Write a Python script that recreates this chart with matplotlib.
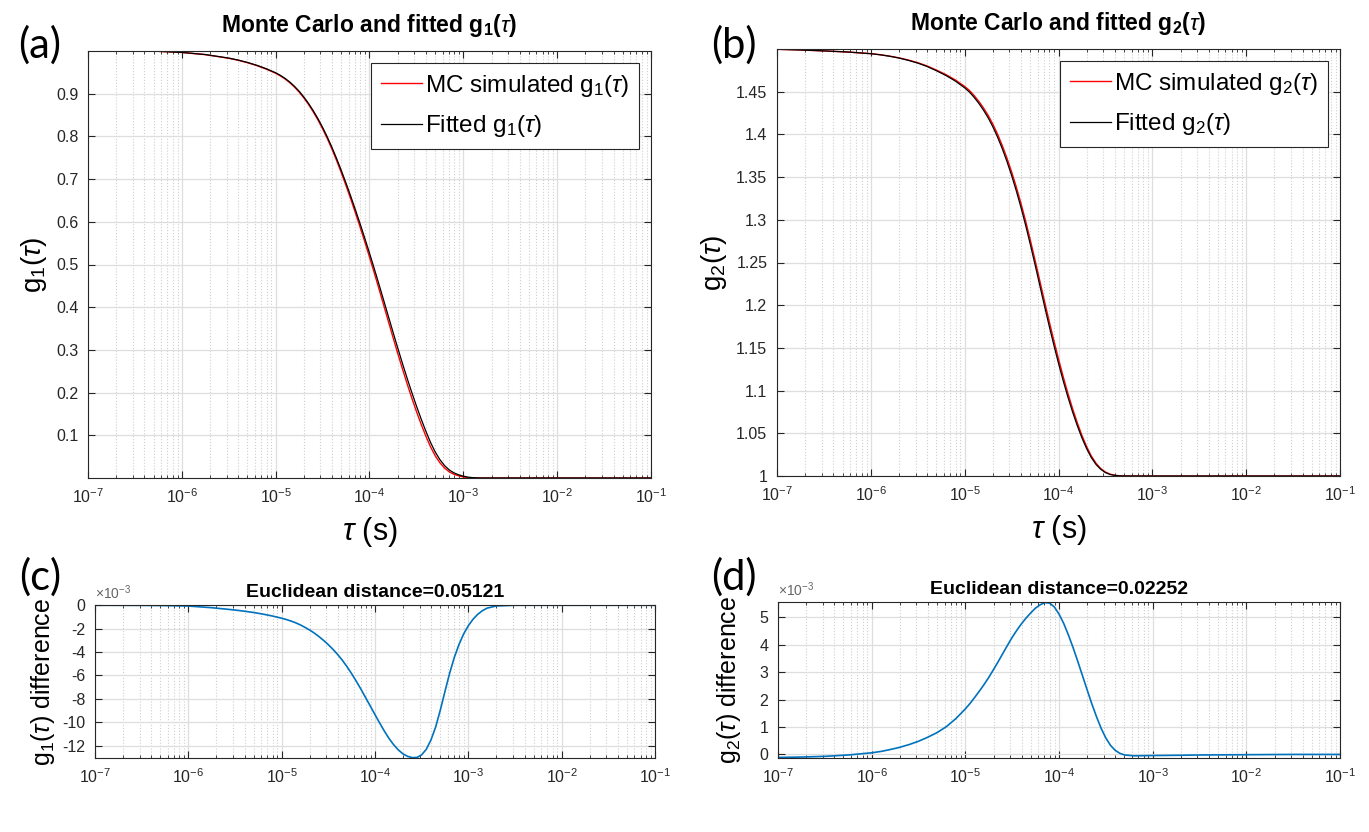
import numpy as np
import matplotlib
matplotlib.use("Agg")
from matplotlib import pyplot as plt
from matplotlib.ticker import LogLocator, NullFormatter, FuncFormatter

# log10(tau) read-out points, panels (a) and (c)
LOG_TAU_1 = [-7.0, -6.5, -6.25, -6.0, -5.75, -5.5, -5.4, -5.3, -5.2, -5.1,
             -5.0, -4.95, -4.9, -4.85, -4.8, -4.75, -4.7, -4.65, -4.6, -4.55,
             -4.5, -4.45, -4.4, -4.35, -4.3, -4.25, -4.2, -4.15, -4.1, -4.05,
             -4.0, -3.95, -3.9, -3.85, -3.8, -3.75, -3.7, -3.65, -3.6, -3.55,
             -3.5, -3.45, -3.4, -3.35, -3.3, -3.25, -3.2, -3.15, -3.1, -3.05,
             -3.0, -2.95, -2.9, -2.85, -2.8, -2.7, -2.5, -2.0, -1.5, -1.0]
G1_MC = [1.0, 0.99989, 0.99917, 0.99663, 0.99149, 0.98299, 0.97829, 0.97258, 0.96574, 0.95758,
         0.94789, 0.94178, 0.93455, 0.9259, 0.91572, 0.90391, 0.89028, 0.87492, 0.85772, 0.83879,
         0.81793, 0.79503, 0.77009, 0.7432, 0.71465, 0.68465, 0.6534, 0.62092, 0.5874, 0.55288,
         0.51735, 0.48084, 0.44355, 0.40562, 0.36758, 0.32974, 0.2925, 0.25629, 0.22128, 0.1878,
         0.15602, 0.1261, 0.0984, 0.0732, 0.05215, 0.03575, 0.0233, 0.01435, 0.00865, 0.00505,
         0.00245, 0.0008, 0.00002, -0.00017, -0.00015, -0.00006, 0.0, 0.0, 0.0, 0.0]
G1_FIT = [1.0, 0.9999, 0.9992, 0.9967, 0.9917, 0.9834, 0.9788, 0.9732, 0.9665, 0.9585,
          0.949, 0.943, 0.9359, 0.9274, 0.9174, 0.9058, 0.8924, 0.8773, 0.8604, 0.8418,
          0.8213, 0.7988, 0.7743, 0.7479, 0.7199, 0.6905, 0.6599, 0.6281, 0.5953, 0.5615,
          0.5267, 0.4909, 0.4543, 0.4170, 0.3795, 0.3421, 0.3052, 0.2692, 0.2343, 0.2008,
          0.1688, 0.1384, 0.1099, 0.0836, 0.0611, 0.0431, 0.0291, 0.0188, 0.012, 0.0075,
          0.0042, 0.002, 0.0008, 0.0003, 0.0001, 0.0, 0.0, 0.0, 0.0, 0.0]
# MC - fitted, in units of 1e-3
G1_DIFF = [0.0, -0.01, -0.03, -0.07, -0.21, -0.41, -0.51, -0.62, -0.76, -0.92,
           -1.11, -1.22, -1.35, -1.50, -1.68, -1.89, -2.12, -2.38, -2.68, -3.01,
           -3.37, -3.77, -4.21, -4.70, -5.25, -5.85, -6.50, -7.18, -7.90, -8.62,
           -9.35, -10.06, -10.75, -11.38, -11.92, -12.36, -12.70, -12.91, -13.02, -13.00,
           -12.78, -12.30, -11.50, -10.40, -8.95, -7.35, -5.80, -4.45, -3.35, -2.45,
           -1.75, -1.20, -0.78, -0.47, -0.25, -0.06, 0.0, 0.0, 0.0, 0.0]

# log10(tau) read-out points, panels (b) and (d)
LOG_TAU_2 = [-7.0, -6.75, -6.5, -6.25, -6.0, -5.9, -5.8, -5.7, -5.6, -5.5,
             -5.4, -5.3, -5.2, -5.1, -5.0, -4.95, -4.9, -4.85, -4.8, -4.75,
             -4.7, -4.65, -4.6, -4.55, -4.5, -4.45, -4.4, -4.35, -4.3, -4.25,
             -4.2, -4.15, -4.1, -4.05, -4.0, -3.95, -3.9, -3.85, -3.8, -3.75,
             -3.7, -3.65, -3.6, -3.55, -3.5, -3.45, -3.4, -3.35, -3.3, -3.2,
             -3.0, -2.7, -2.5, -2.0, -1.5, -1.0]
G2_MC = [1.49959, 1.49881, 1.49773, 1.49648, 1.49456, 1.49331, 1.49168, 1.48966, 1.48706, 1.48398,
         1.48013, 1.4753, 1.47002, 1.46381, 1.45616, 1.45156, 1.44558, 1.43881, 1.43105, 1.42231,
         1.41209, 1.40038, 1.38718, 1.37248, 1.35627, 1.33853, 1.31927, 1.29848, 1.27617, 1.25284,
         1.22896, 1.20504, 1.18152, 1.15888, 1.13712, 1.11628, 1.09686, 1.0789, 1.0624, 1.04738,
         1.03436, 1.02335, 1.01488, 1.00875, 1.0046, 1.00213, 1.00085, 1.00024, 1.00003, 0.99995,
         0.99996, 0.99997, 0.99998, 0.99999, 1.0, 1.0]
G2_FIT = [1.4997, 1.4989, 1.4978, 1.4965, 1.4945, 1.4932, 1.4915, 1.4894, 1.4867, 1.4835,
          1.4795, 1.4745, 1.469, 1.4625, 1.4545, 1.4497, 1.4435, 1.4365, 1.4285, 1.4195,
          1.4090, 1.3970, 1.3835, 1.3685, 1.3520, 1.3340, 1.3145, 1.2935, 1.2710, 1.2475,
          1.2235, 1.1995, 1.1760, 1.1535, 1.1320, 1.1115, 1.0925, 1.0750, 1.0590, 1.0445,
          1.0320, 1.0215, 1.0135, 1.0078, 1.0040, 1.0018, 1.0007, 1.0002, 1.00005, 1.0,
          1.0, 1.0, 1.0, 1.0, 1.0, 1.0]
G2_DIFF = [-0.11, -0.095, -0.07, -0.02, 0.06, 0.11, 0.18, 0.26, 0.36, 0.48,
           0.63, 0.80, 1.02, 1.31, 1.66, 1.86, 2.08, 2.31, 2.55, 2.81,
           3.09, 3.38, 3.68, 3.98, 4.27, 4.53, 4.77, 4.98, 5.17, 5.34,
           5.46, 5.54, 5.52, 5.38, 5.12, 4.78, 4.36, 3.90, 3.40, 2.88,
           2.36, 1.85, 1.38, 0.95, 0.60, 0.33, 0.15, 0.04, -0.02, -0.05,
           -0.04, -0.03, -0.02, -0.01, 0.0, 0.0]

TITLES = ["Monte Carlo and fitted g$_\\mathbf{1}$($\\tau$)",
          "Monte Carlo and fitted g$_\\mathbf{2}$($\\tau$)",
          "Euclidean distance=0.05121",
          "Euclidean distance=0.02252"]
X_TICKS = [1e-7, 1e-6, 1e-5, 1e-4, 1e-3, 1e-2, 1e-1]
G1_TICKS = [0.1, 0.2, 0.3, 0.4, 0.5, 0.6, 0.7, 0.8, 0.9]
G2_TICKS = [1.0, 1.05, 1.1, 1.15, 1.2, 1.25, 1.3, 1.35, 1.4, 1.45]
D1_TICKS = [-12, -10, -8, -6, -4, -2, 0]
D2_TICKS = [0, 1, 2, 3, 4, 5]

plt.rcParams["font.family"] = ["Liberation Sans", "DejaVu Sans"]
plt.rcParams["mathtext.fontset"] = "custom"
plt.rcParams["mathtext.rm"] = "Liberation Sans"
plt.rcParams["mathtext.it"] = "Liberation Sans:italic"
plt.rcParams["mathtext.bf"] = "Liberation Sans:bold"

DARK = "#262626"
W, H = 1369, 832


def px_axes(fig, left, top, right, bottom):
    return fig.add_axes([left / W, 1 - bottom / H, (right - left) / W, (bottom - top) / H])


def style(ax):
    ax.set_xscale("log")
    ax.set_xlim(1e-7, 1e-1)
    ax.set_xticks(X_TICKS)
    ax.xaxis.set_minor_locator(LogLocator(base=10, subs=np.arange(2, 10), numticks=100))
    ax.xaxis.set_minor_formatter(NullFormatter())
    ax.grid(True, which="major", color="#dedede", lw=0.9)
    ax.grid(True, which="minor", axis="x", color="#cfcfcf", lw=0.8, ls=":")
    ax.set_axisbelow(True)
    ax.tick_params(which="both", direction="in", top=True, right=True,
                   colors=DARK, labelsize=11.5)
    ax.tick_params(which="major", length=5, pad=7)
    ax.tick_params(which="minor", length=2.5)
    for s in ax.spines.values():
        s.set_color(DARK)
        s.set_linewidth(0.8)


def legend(ax):
    leg = ax.legend(loc="upper right", fontsize=17.5, fancybox=False, edgecolor=DARK,
                    framealpha=1, handlelength=1.7, handletextpad=0.1,
                    labelspacing=0.6, borderaxespad=0.5, borderpad=0.4)
    leg.get_frame().set_linewidth(0.8)


fig = plt.figure(figsize=(W / 100, H / 100), dpi=100)

tau1 = 10.0 ** np.array(LOG_TAU_1)
tau2 = 10.0 ** np.array(LOG_TAU_2)

# (a)
ax = px_axes(fig, 88, 51, 651, 478)
style(ax)
ax.plot(tau1, G1_MC, color="red", lw=1.0, label="MC simulated g$_1$($\\tau$)")
ax.plot(tau1, G1_FIT, color="black", lw=0.9, label="Fitted g$_1$($\\tau$)")
ax.set_ylim(0, 1)
ax.set_yticks(G1_TICKS)
ax.yaxis.set_major_formatter(FuncFormatter(lambda v, p: f"{v:g}"))
ax.set_title(TITLES[0], fontsize=16.5, fontweight="bold", pad=14)
ax.set_xlabel("$\\tau$ (s)", fontsize=22, labelpad=6)
ax.set_ylabel("g$_1$($\\tau$)", fontsize=20, labelpad=5)
legend(ax)

# (b)
ax = px_axes(fig, 777, 49, 1340, 476)
style(ax)
ax.plot(tau2, G2_MC, color="red", lw=1.0, label="MC simulated g$_2$($\\tau$)")
ax.plot(tau2, G2_FIT, color="black", lw=0.9, label="Fitted g$_2$($\\tau$)")
ax.set_ylim(1, 1.5)
ax.set_yticks(G2_TICKS)
ax.yaxis.set_major_formatter(FuncFormatter(lambda v, p: f"{v:g}"))
ax.set_title(TITLES[1], fontsize=16.5, fontweight="bold", pad=14)
ax.set_xlabel("$\\tau$ (s)", fontsize=22, labelpad=6)
ax.set_ylabel("g$_2$($\\tau$)", fontsize=20, labelpad=5)
legend(ax)

# (c)
ax = px_axes(fig, 95, 605, 655, 758)
style(ax)
ax.plot(tau1, np.array(G1_DIFF) * 1e-3, color="#0072BD", lw=1.2)
ax.set_ylim(-13.05e-3, 0.02e-3)
ax.set_yticks(np.array(D1_TICKS) * 1e-3)
ax.yaxis.set_major_formatter(FuncFormatter(lambda v, p: f"{v * 1e3:.0f}"))
ax.set_title(TITLES[2], fontsize=14, fontweight="bold", pad=6)
ax.set_ylabel("g$_1$($\\tau$) difference", fontsize=18, labelpad=4)
ax.text(0.0, 1.02, "\u00d710$^{-3}$", transform=ax.transAxes, ha="left", va="bottom",
        fontsize=10, color="#666666")

# (d)
ax = px_axes(fig, 778, 602, 1340, 758)
style(ax)
ax.plot(tau2, np.array(G2_DIFF) * 1e-3, color="#0072BD", lw=1.2)
ax.set_ylim(-0.13e-3, 5.56e-3)
ax.set_yticks(np.array(D2_TICKS) * 1e-3)
ax.yaxis.set_major_formatter(FuncFormatter(lambda v, p: f"{v * 1e3:.0f}"))
ax.set_title(TITLES[3], fontsize=14, fontweight="bold", pad=6)
ax.set_ylabel("g$_2$($\\tau$) difference", fontsize=18, labelpad=12)
ax.text(0.0, 1.02, "\u00d710$^{-3}$", transform=ax.transAxes, ha="left", va="bottom",
        fontsize=10, color="#666666")

# panel letters
for lbl, x, y in [("(a)", 40, 45), ("(b)", 734, 45), ("(c)", 40, 577), ("(d)", 734, 577)]:
    fig.text(x / W, 1 - y / H, lbl, fontsize=30, family=["Lato", "DejaVu Sans"],
             ha="center", va="center")

fig.savefig("out.png", dpi=100)
